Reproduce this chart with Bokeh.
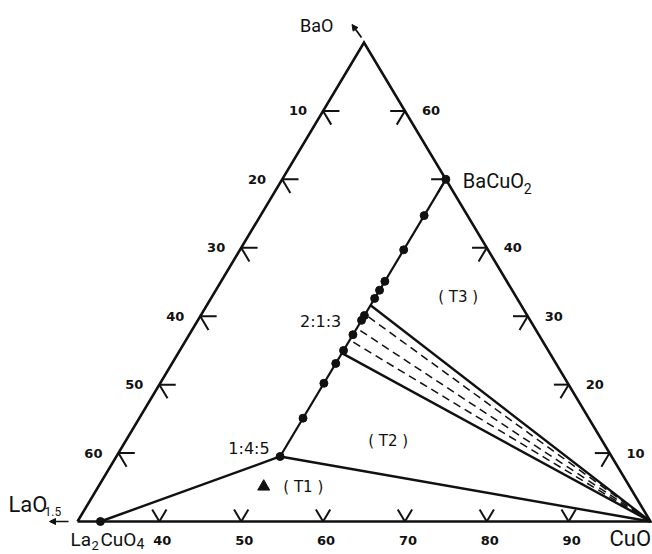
from bokeh.plotting import figure
from bokeh.models import Arrow, NormalHead
from bokeh.core.properties import value
from bokeh.embed import file_html
from bokeh.resources import INLINE

# ---------------- data (mol %, given as (CuO, BaO)) ----------------
corner_cuo = [30, 100, 30]
corner_bao = [0, 0, 70]

bottom_ticks = [40, 50, 60, 70, 80, 90]          # CuO %
left_ticks = [10, 20, 30, 40, 50, 60]            # LaO1.5 % along the CuO = 30 % edge
right_ticks = [10, 20, 30, 40, 50, 60]           # BaO % along BaO-CuO edge
right_tick_labels = ["10", "20", "30", "40", "", "60"]

la2cuo4 = (32.8, 0.0)
p145 = (50.0, 9.5)
bacuo2 = (50.0, 50.0)
cuo = (100.0, 0.0)

ss_cuo = 50.0
ss_bao = [44.7, 39.7, 35.1, 33.8, 32.6, 30.1, 29.4, 27.3, 25.0, 23.1, 20.2, 15.1]

tie_solid_bao = [31.6, 24.6]
tie_dashed_bao = [29.9, 27.9, 26.2]

t1_sample = (50.2, 5.1)

region_names = ["( T1 )", "( T2 )", "( T3 )"]
region_cuo = [55.1, 62.1, 60.1]
region_bao = [4.97, 11.7, 32.8]

phase_names = ["2:1:3", "1:4:5"]
phase_lab_cuo = [45.1, 45.6]
phase_lab_bao = [29.2, 10.7]

# ---------------- geometry ----------------
W, H = 652, 554
SX = 573 / 70.0   # px per unit, horizontal
SY = 479 / 70.0   # px per unit, vertical
X0 = 30 - 77 / SX
X1 = X0 + W / SX
Y1 = 70 + 42 / SY
Y0 = Y1 - H / SY


def tx(cu, ba):
    return cu + ba / 2.0


def dx(px):
    return px / SX


def dy(px):
    return px / SY


p = figure(width=W, height=H, x_range=(X0, X1), y_range=(Y0, Y1),
           output_backend="svg", toolbar_location=None, min_border=0,
           x_axis_type=None, y_axis_type=None)
p.grid.visible = False
p.outline_line_color = None
p.background_fill_color = "white"
p.border_fill_color = "white"

BLACK = "#111111"

# triangle frame
fx = [tx(c, b) for c, b in zip(corner_cuo, corner_bao)] + [tx(corner_cuo[0], corner_bao[0])]
fy = list(corner_bao) + [corner_bao[0]]
p.line(fx, fy, line_color=BLACK, line_width=2.6, line_join="miter")

# tick marks
x0s, y0s, x1s, y1s = [], [], [], []
d = 1.75
for v in bottom_ticks:
    x0s += [tx(v, 0), tx(v, 0)]
    y0s += [0, 0]
    x1s += [tx(v - d, d), tx(v, d)]
    y1s += [d, d]
for v in left_ticks:
    b = 70 - v
    x0s += [tx(30, b), tx(30, b)]
    y0s += [b, b]
    x1s += [tx(32, b), tx(32, b - 2)]
    y1s += [b, b - 2]
for v in right_ticks:
    x0s += [tx(100 - v, v), tx(100 - v, v)]
    y0s += [v, v]
    x1s += [tx(98.2 - v, v), tx(100 - v, v - 2)]
    y1s += [v, v - 2]
p.segment(x0s, y0s, x1s, y1s, line_color=BLACK, line_width=2)

# tick labels
p.text(x=[tx(v, 0) + dx(3) for v in bottom_ticks], y=[-dy(19)] * len(bottom_ticks),
       text=[str(v) for v in bottom_ticks], text_font=value("DejaVu Sans"),
       text_font_style="bold", text_font_size="13px", text_align="center",
       text_baseline="middle", text_color=BLACK)
p.text(x=[tx(30, 70 - v) - dx(16) for v in left_ticks], y=[70 - v for v in left_ticks],
       text=[str(v) for v in left_ticks], text_font=value("DejaVu Sans"),
       text_font_style="bold", text_font_size="13px", text_align="right",
       text_baseline="middle", text_color=BLACK)
p.text(x=[tx(100 - v, v) + dx(17) for v in right_ticks], y=right_ticks,
       text=right_tick_labels, text_font=value("DejaVu Sans"),
       text_font_style="bold", text_font_size="13px", text_align="left",
       text_baseline="middle", text_color=BLACK)

# phase relations
p.line([tx(*la2cuo4), tx(*p145), tx(*cuo)], [la2cuo4[1], p145[1], cuo[1]],
       line_color=BLACK, line_width=2.4, line_join="round")
p.line([tx(*p145), tx(*bacuo2)], [p145[1], bacuo2[1]], line_color=BLACK, line_width=2.2)
for b in tie_solid_bao:
    p.line([tx(ss_cuo, b), tx(*cuo)], [b, cuo[1]], line_color=BLACK, line_width=2.4)
for b in tie_dashed_bao:
    p.line([tx(ss_cuo + 0.6, b), tx(*cuo)], [b, cuo[1]], line_color=BLACK,
           line_width=1.5, line_dash="8 5")

# points
p.scatter([tx(ss_cuo, b) for b in ss_bao], ss_bao, marker="circle", size=8,
          fill_color=BLACK, line_color=BLACK)
p.scatter([tx(*la2cuo4), tx(*p145), tx(*bacuo2)], [la2cuo4[1], p145[1], bacuo2[1]],
          marker="circle", size=8, fill_color=BLACK, line_color=BLACK)
p.scatter([tx(*t1_sample)], [t1_sample[1]], marker="triangle", size=12,
          fill_color=BLACK, line_color=BLACK)

# region / phase labels
p.text(x=[tx(c, b) for c, b in zip(region_cuo, region_bao)], y=region_bao,
       text=region_names, text_font=value("DejaVu Sans"), text_font_size="15px",
       text_align="center", text_baseline="middle", text_color=BLACK)
p.text(x=[tx(c, b) for c, b in zip(phase_lab_cuo, phase_lab_bao)], y=phase_lab_bao,
       text=phase_names, text_font=value("DejaVu Sans"), text_font_size="16px",
       text_align="center", text_baseline="middle", text_color=BLACK)

# compound labels (main text + subscripts), vertically centred
LAB_FONT = value("Roboto")


def lab(x, y, s, size):
    p.text(x=[x], y=[y], text=[s], text_font=LAB_FONT, text_font_size=size,
           text_align="left", text_baseline="middle", text_color=BLACK)


top = (tx(30, 70), 70)
lab(top[0] - dx(64), top[1] + dy(17), "BaO", "18px")
bx, by = tx(*bacuo2), bacuo2[1]
lab(bx + dx(17), by - dy(1.6), "BaCuO", "20px")
lab(bx + dx(78), by - dy(9), "2", "14px")
cx, cy = tx(*cuo), cuo[1]
lab(cx - dx(41), cy - dy(16.5), "CuO", "22px")
lx = tx(30, 0)
lab(lx - dx(69), dy(17.5), "LaO", "22px")
lab(lx - dx(33), dy(10), "1.5", "12px")
kx = tx(*la2cuo4)
lab(kx - dx(30), -dy(18), "La", "19px")
lab(kx - dx(9), -dy(24), "2", "13px")
lab(kx + dx(0), -dy(18), "CuO", "19px")
lab(kx + dx(36), -dy(22), "4", "14px")

# direction arrows
p.add_layout(Arrow(x_start=lx - dx(9), y_start=0, x_end=lx - dx(28), y_end=0,
                   line_color=BLACK, line_width=1.5,
                   end=NormalHead(size=6, fill_color=BLACK, line_color=BLACK)))
p.add_layout(Arrow(x_start=top[0] - dx(2.5), y_start=top[1] + dy(5),
                   x_end=top[0] - dx(12), y_end=top[1] + dy(18),
                   line_color=BLACK, line_width=1.8,
                   end=NormalHead(size=6, fill_color=BLACK, line_color=BLACK)))

open("out.html", "w").write(file_html(p, INLINE))
